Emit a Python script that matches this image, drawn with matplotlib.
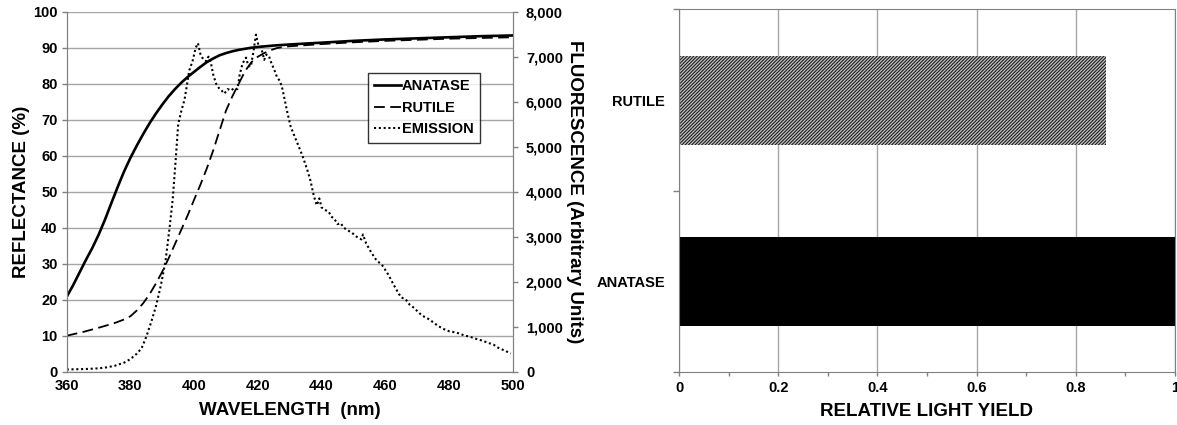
import matplotlib
matplotlib.use('Agg')
import matplotlib.pyplot as plt
from matplotlib.ticker import FuncFormatter, MultipleLocator, FixedLocator

plt.rcParams['font.family'] = ['Liberation Sans', 'DejaVu Sans']
plt.rcParams['font.weight'] = 'bold'
plt.rcParams['axes.labelweight'] = 'bold'
plt.rcParams['hatch.linewidth'] = 0.8

# reflectance (%) vs wavelength (nm)
anatase_nm = [360, 362, 364, 366, 368, 370, 372, 374, 376, 378, 380, 382, 384, 386, 388,
              390, 392, 394, 396, 398, 400, 402, 404, 406, 408, 410, 412, 414, 416, 418,
              420, 425, 430, 440, 450, 460, 470, 480, 490, 500]
anatase_refl = [20.8, 24, 27.5, 31, 34.3, 38, 42.2, 46.8, 51.3, 55.6, 59.4, 62.8, 66, 69, 71.7,
                74.2, 76.5, 78.5, 80.3, 81.9, 83.3, 84.7, 86, 87, 87.9, 88.5, 89, 89.4, 89.7, 90.0,
                90.2, 90.6, 90.9, 91.4, 91.9, 92.3, 92.6, 92.9, 93.2, 93.4]

rutile_nm = [360, 365, 370, 375, 378, 380, 382, 384, 386, 388, 390, 392, 394, 396, 398,
             400, 402, 404, 406, 408, 410, 412, 414, 416, 418, 420, 422, 424, 426, 428,
             430, 440, 450, 460, 470, 480, 490, 500]
rutile_refl = [10, 11, 12.2, 13.5, 14.5, 15.4, 17, 19, 21.5, 24.5, 27.8, 31.5, 35.5, 39.5, 43.5,
               47.8, 52, 56.5, 61.5, 67, 72.5, 76.5, 80, 83.5, 86, 87.5, 88.5, 89.3, 89.9, 90.2,
               90.4, 91, 91.5, 91.9, 92.2, 92.5, 92.7, 92.9]

# emission (arbitrary units)
emis_nm = [360, 363, 366, 369, 372, 375, 378, 380, 382, 383.5, 385, 386.5, 388, 389.5, 391,
           392.3, 393.3, 394.2, 395, 396, 397, 398.5, 399.5, 400.5, 401.2, 402, 402.8, 403.8,
           404.5, 405.3, 406, 406.9, 407.8, 408.6, 409.5, 410.5, 411.6, 412.5, 413.6, 414.3,
           415.2, 416.3, 417, 417.8, 418.6, 419.4, 420.2, 421, 422, 422.7, 423.5, 424.3, 425.1,
           426, 426.7, 427.5, 428.2, 429.3, 430.3, 431.4, 432.4, 434, 435.5, 436.5, 437.6,
           438.5, 439.3, 440, 441, 442.3, 443, 444, 445, 446, 447, 448, 449.5, 451, 452.5, 453,
           454, 455.6, 457, 459.2, 461, 462.5, 464, 465, 466.4, 467.5, 468.8, 470, 471.5, 473.6,
           475, 476.5, 478.4, 480, 481.5, 483.2, 485, 486.5, 488, 490, 492, 494, 495.5, 497.6,
           499.4]
emis_val = [50, 55, 60, 70, 90, 130, 200, 280, 400, 520, 780, 1100, 1450, 1900, 2450,
            3200, 3850, 4700, 5500, 5800, 6050, 6700, 6900, 7200, 7300, 7050, 6950, 6900,
            7000, 6850, 6600, 6400, 6300, 6250, 6180, 6280, 6250, 6300, 6280, 6600,
            6850, 6980, 6800, 6780, 7100, 7490, 7250, 7220, 6930, 7050, 7010, 6850, 6720,
            6550, 6480, 6350, 6120, 5750, 5450, 5250, 5080, 4800, 4490, 4250, 3900,
            3700, 3850, 3650, 3600, 3550, 3450, 3400, 3280, 3300, 3200, 3150, 3090, 3000, 2940, 3050,
            2850, 2650, 2500, 2350, 2150, 1950, 1760, 1650, 1610, 1500, 1430, 1350, 1250, 1170,
            1100, 1020, 946, 900, 880, 850, 800, 780, 740, 700, 650, 600, 530, 466,
            406]

# relative light yield
yield_labels = ['ANATASE', 'RUTILE']
yield_vals = [1.0, 0.86]

W, H = 1177, 425
fig = plt.figure(figsize=(W / 100, H / 100), dpi=100)
ax = fig.add_axes([66.7 / W, (H - 371.7) / H, (512.7 - 66.7) / W, (371.7 - 11.7) / H])
ax2 = ax.twinx()
axb = fig.add_axes([679 / W, (H - 372.3) / H, (1175 - 679) / W, (372.3 - 9.3) / H])

grid_c = '#a6a6a6'
spine_c = '#808080'

# ---- left chart ----
l1, = ax.plot(anatase_nm, anatase_refl, color='black', lw=1.9, label='ANATASE')
l2, = ax.plot(rutile_nm, rutile_refl, color='black', lw=1.3, ls=(0, (6, 3)), label='RUTILE')
l3, = ax2.plot(emis_nm, emis_val, color='black', lw=1.5, ls=(0, (1, 1.3)), label='EMISSION')

ax.set_xlim(360, 500)
ax.set_ylim(0, 100)
ax2.set_ylim(0, 8000)
ax.xaxis.set_major_locator(MultipleLocator(20))
ax.yaxis.set_major_locator(MultipleLocator(10))
ax2.yaxis.set_major_locator(MultipleLocator(1000))
ax2.yaxis.set_major_formatter(FuncFormatter(lambda v, p: f'{int(v):,}'))
ax.grid(axis='y', color=grid_c, lw=1)
ax.set_axisbelow(True)

for a in (ax, ax2):
    for s in a.spines.values():
        s.set_color(spine_c)
    a.spines['top'].set_visible(False)
ax.tick_params(axis='y', length=3.5, width=1, color=spine_c, pad=3, labelsize=10.5)
ax.tick_params(axis='x', length=0, pad=5, labelsize=10.5)
ax2.tick_params(axis='y', length=3.5, width=1, color=spine_c, pad=6, labelsize=10.5)

ax.set_xlabel('WAVELENGTH  (nm)', fontsize=13.5)
ax.set_ylabel('REFLECTANCE (%)', fontsize=13.5)
ax2.set_ylabel('FLUORESCENCE (Arbitrary Units)', fontsize=13.5, rotation=270)
ax.xaxis.set_label_coords(0.5, -0.085)
ax.yaxis.set_label_coords(-0.082, 0.5)
ax2.yaxis.set_label_coords(1.157, 0.5)

leg = ax2.legend(handles=[l1, l2, l3], loc='upper left', bbox_to_anchor=(0.675, 0.83),
                 fontsize=10.5, frameon=True, fancybox=False, handlelength=1.8,
                 handletextpad=0.1, labelspacing=0.5, borderpad=0.45, borderaxespad=0)
leg.get_frame().set_edgecolor('black')
leg.get_frame().set_linewidth(1)

# ---- right chart ----
ypos = list(range(len(yield_labels)))
axb.barh(ypos[0], yield_vals[0], height=0.49, color='black')
axb.barh(ypos[1], yield_vals[1], height=0.49, color='#c4c4c4', edgecolor='#1a1a1a',
         hatch='/' * 10, linewidth=0)
axb.set_xlim(0, 1)
axb.set_ylim(-0.5, 1.5)
axb.xaxis.set_major_locator(MultipleLocator(0.2))
axb.xaxis.set_minor_locator(MultipleLocator(0.1))
axb.xaxis.set_major_formatter(FuncFormatter(lambda v, p: f'{v:g}'))
axb.grid(axis='x', color=grid_c, lw=1)
axb.set_axisbelow(True)
axb.yaxis.set_major_locator(FixedLocator(ypos))
axb.yaxis.set_minor_locator(FixedLocator([-0.5, 0.5, 1.5]))
axb.set_yticklabels(yield_labels)
axb.tick_params(axis='y', which='major', length=0, pad=10, labelsize=10.5)
axb.tick_params(axis='y', which='minor', length=4, width=1, color=spine_c)
axb.tick_params(axis='x', which='both', length=3, width=1, color=spine_c, pad=3, labelsize=10.5)
for s in axb.spines.values():
    s.set_color(spine_c)
axb.set_xlabel('RELATIVE LIGHT YIELD', fontsize=13.5)
axb.xaxis.set_label_coords(0.5, -0.085)

fig.savefig('out.png', dpi=100)
